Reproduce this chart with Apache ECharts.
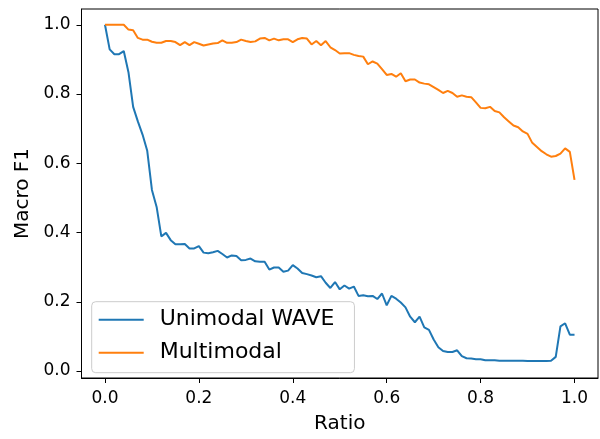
<!DOCTYPE html>
<html>
<head>
<meta charset="utf-8">
<script src="https://cdn.jsdelivr.net/npm/echarts@6/dist/echarts.min.js"></script>
<style>html,body{margin:0;padding:0;background:#fff;}#c{width:600px;height:439px;}</style>
</head>
<body>
<div id="c"></div>
<script>
const ratios = [];
for (let i = 0; i <= 100; i++) ratios.push(+(i / 100).toFixed(2));
const unimodalWave = [
  1.000, 0.929, 0.915, 0.915, 0.924, 0.863, 0.763, 0.721, 0.683, 0.636,
  0.523, 0.474, 0.389, 0.399, 0.378, 0.366, 0.366, 0.367, 0.354, 0.354,
  0.361, 0.342, 0.340, 0.343, 0.347, 0.338, 0.328, 0.334, 0.332, 0.320,
  0.321, 0.325, 0.317, 0.316, 0.316, 0.293, 0.299, 0.299, 0.287, 0.290,
  0.306, 0.296, 0.283, 0.280, 0.276, 0.271, 0.274, 0.255, 0.240, 0.257,
  0.236, 0.247, 0.238, 0.244, 0.217, 0.219, 0.216, 0.217, 0.208, 0.224,
  0.190, 0.217, 0.209, 0.198, 0.184, 0.157, 0.141, 0.157, 0.126, 0.119,
  0.091, 0.069, 0.058, 0.055, 0.055, 0.060, 0.043, 0.037, 0.036, 0.034,
  0.034, 0.031, 0.031, 0.031, 0.030, 0.030, 0.030, 0.030, 0.030, 0.030,
  0.029, 0.029, 0.029, 0.029, 0.029, 0.030, 0.041, 0.129, 0.138, 0.105,
  0.105
];
const multimodal = [
  1.000, 1.000, 1.000, 1.000, 1.000, 0.986, 0.984, 0.962, 0.957, 0.957,
  0.951, 0.948, 0.948, 0.953, 0.953, 0.950, 0.941, 0.950, 0.941, 0.950,
  0.945, 0.940, 0.943, 0.946, 0.947, 0.955, 0.948, 0.948, 0.950, 0.957,
  0.953, 0.950, 0.952, 0.960, 0.962, 0.955, 0.960, 0.955, 0.958, 0.958,
  0.950, 0.958, 0.962, 0.960, 0.943, 0.953, 0.941, 0.953, 0.935, 0.927,
  0.917, 0.918, 0.918, 0.913, 0.910, 0.908, 0.886, 0.894, 0.888, 0.872,
  0.855, 0.858, 0.850, 0.860, 0.837, 0.842, 0.842, 0.833, 0.830, 0.828,
  0.820, 0.812, 0.803, 0.809, 0.803, 0.792, 0.796, 0.792, 0.791, 0.776,
  0.760, 0.759, 0.763, 0.751, 0.747, 0.733, 0.721, 0.709, 0.704, 0.692,
  0.685, 0.659, 0.647, 0.635, 0.626, 0.619, 0.621, 0.628, 0.643, 0.633,
  0.552
];
const xTicks = [0, 0.2, 0.4, 0.6, 0.8, 1.0];
const yTicks = [0, 0.2, 0.4, 0.6, 0.8, 1.0];
const seriesNames = ['Unimodal WAVE', 'Multimodal'];
const colors = ['#1f77b4', '#ff7f0e'];

const font = 'DejaVu Sans';
const chart = echarts.init(document.getElementById('c'), null, {renderer: 'canvas'});
chart.setOption({
  animation: false,
  backgroundColor: '#fff',
  grid: {left: 81.5, right: 2, top: 9, bottom: 55, show: true, borderColor: '#000', borderWidth: 1, backgroundColor: 'transparent'},
  legend: {
    orient: 'vertical', left: 91.7, top: 301.7,
    data: seriesNames,
    icon: 'rect', itemWidth: 45, itemHeight: 2, itemGap: 7,
    padding: [5, 20, 7, 7],
    backgroundColor: 'rgba(255,255,255,0.85)', borderColor: '#cccccc', borderWidth: 1, borderRadius: 4,
    textStyle: {fontFamily: font, fontSize: 22, color: '#000', lineHeight: 26, padding: [0, 0, 0, 11]}
  },
  xAxis: {
    type: 'value', min: -0.05, max: 1.05,
    name: 'Ratio', nameLocation: 'middle', nameGap: 36,
    nameTextStyle: {fontFamily: font, fontSize: 20, color: '#000'},
    axisLine: {show: true, onZero: false, lineStyle: {color: '#000', width: 1}},
    axisTick: {show: true, length: 5, lineStyle: {color: '#000'}, customValues: xTicks},
    axisLabel: {fontFamily: font, fontSize: 17, color: '#000', margin: 12, customValues: xTicks, formatter: v => v.toFixed(1)},
    splitLine: {show: false}
  },
  yAxis: {
    type: 'value', min: -0.02, max: 1.0455,
    name: 'Macro F1', nameLocation: 'middle', nameGap: 45,
    nameTextStyle: {fontFamily: font, fontSize: 20, color: '#000'},
    axisLine: {show: true, onZero: false, lineStyle: {color: '#000', width: 1}},
    axisTick: {show: true, length: 5, lineStyle: {color: '#000'}, customValues: yTicks},
    axisLabel: {fontFamily: font, fontSize: 17, color: '#000', margin: 11, customValues: yTicks, formatter: v => v.toFixed(1)},
    splitLine: {show: false}
  },
  series: [
    {name: seriesNames[0], type: 'line', data: ratios.map((r, i) => [r, unimodalWave[i]]), showSymbol: false, symbol: 'none', lineStyle: {color: colors[0], width: 2}, itemStyle: {color: colors[0]}},
    {name: seriesNames[1], type: 'line', data: ratios.map((r, i) => [r, multimodal[i]]), showSymbol: false, symbol: 'none', lineStyle: {color: colors[1], width: 2}, itemStyle: {color: colors[1]}}
  ]
});
</script>
</body>
</html>
